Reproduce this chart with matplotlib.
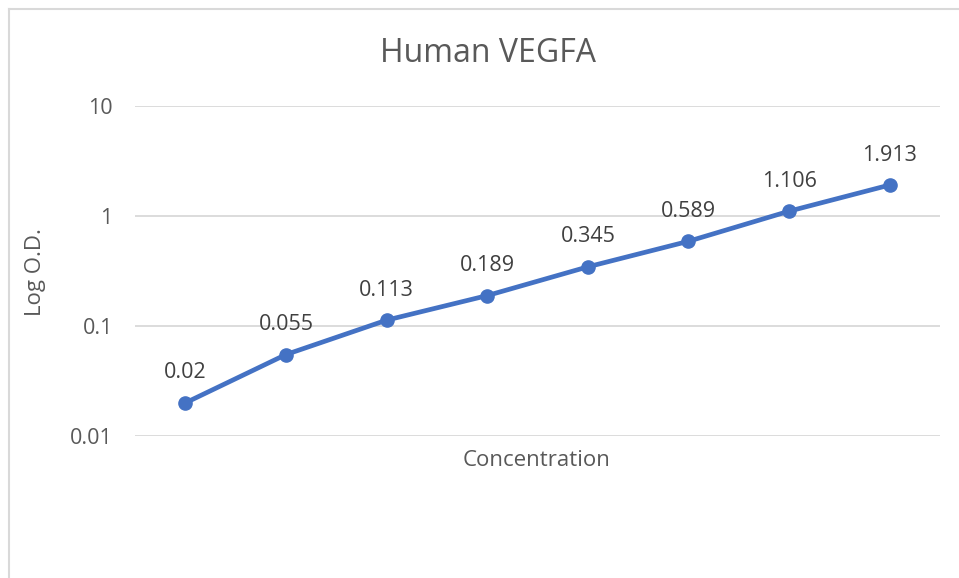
import matplotlib
matplotlib.use("Agg")
import matplotlib.pyplot as plt
from matplotlib.lines import Line2D

plt.rcParams['font.family'] = ['Open Sans', 'DejaVu Sans']

# data
points = list(range(8))
od_values = [0.02, 0.055, 0.113, 0.189, 0.345, 0.589, 1.106, 1.913]
od_labels = ['0.02', '0.055', '0.113', '0.189', '0.345', '0.589', '1.106', '1.913']
y_ticks = [0.01, 0.1, 1, 10]
y_ticklabels = ['0.01', '0.1', '1', '10']

W, H = 959, 578
fig = plt.figure(figsize=(W / 100, H / 100), dpi=100)
ax = fig.add_axes([135 / W, 142 / H, 805 / W, 330 / H])

ax.plot(points, od_values, color='#4472C4', lw=3.4, marker='o', ms=9.5,
        solid_capstyle='round', zorder=3)
for x, y, lab in zip(points, od_values, od_labels):
    ax.annotate(lab, (x, y), xytext=(0, 14), textcoords='offset points',
                ha='center', va='bottom', fontsize=15.5, color='#404040')

ax.set_yscale('log')
ax.set_ylim(0.01, 10)
ax.set_xlim(-0.5, 7.5)
ax.set_yticks(y_ticks)
ax.set_yticklabels(y_ticklabels)
ax.minorticks_off()
ax.set_xticks([])
ax.tick_params(axis='y', length=0, pad=16, labelsize=15.5, labelcolor='#595959')
ax.grid(axis='y', color='#D9D9D9', lw=1.3)
ax.set_axisbelow(True)
for s in ax.spines.values():
    s.set_visible(False)

fig.text(537 / W, 1 - 460 / H, 'Concentration', ha='center', va='center',
         fontsize=16, color='#595959')
fig.text(35 / W, 1 - 272 / H, 'Log O.D.', ha='center', va='center',
         rotation=90, fontsize=16, color='#595959')
fig.text(488 / W, 1 - 54 / H, 'Human VEGFA', ha='center', va='center',
         fontsize=23, color='#595959')

# chart border (top and left edges visible)
fig.add_artist(Line2D([8.5 / W, 8.5 / W], [0, 1 - 8.5 / H],
                      color='#D9D9D9', lw=1.5, transform=fig.transFigure))
fig.add_artist(Line2D([8.5 / W, 1], [1 - 8.5 / H, 1 - 8.5 / H],
                      color='#D9D9D9', lw=1.5, transform=fig.transFigure))

fig.savefig('out.png', dpi=100)
